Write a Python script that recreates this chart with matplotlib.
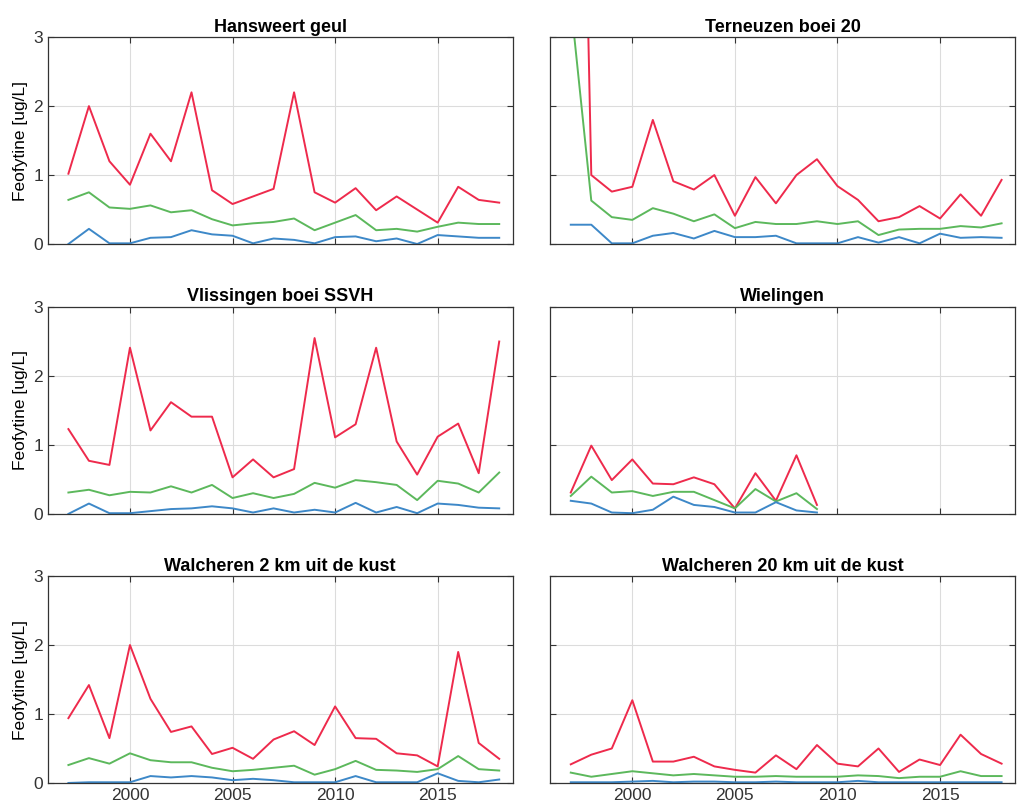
import matplotlib.pyplot as plt
import numpy as np

plt.rcParams['font.family'] = ['Liberation Sans', 'DejaVu Sans']

years = list(range(1997, 2019))

titles = ['Hansweert geul', 'Terneuzen boei 20', 'Vlissingen boei SSVH',
          'Wielingen', 'Walcheren 2 km uit de kust', 'Walcheren 20 km uit de kust']

# red (upper), green (middle), blue (lower) per station
hansweert_red = [1.02, 2.0, 1.2, 0.86, 1.6, 1.2, 2.2, 0.78, 0.58, 0.69, 0.8, 2.2,
                 0.75, 0.6, 0.81, 0.49, 0.69, 0.5, 0.31, 0.83, 0.64, 0.6]
hansweert_green = [0.64, 0.75, 0.53, 0.51, 0.56, 0.46, 0.49, 0.36, 0.27, 0.3, 0.32, 0.37,
                   0.2, 0.31, 0.42, 0.2, 0.22, 0.18, 0.25, 0.31, 0.29, 0.29]
hansweert_blue = [0.0, 0.22, 0.01, 0.01, 0.09, 0.1, 0.2, 0.14, 0.12, 0.01, 0.08, 0.06,
                  0.01, 0.1, 0.11, 0.04, 0.08, 0.0, 0.13, 0.11, 0.09, 0.09]

terneuzen_red = [15.0, 1.0, 0.76, 0.83, 1.8, 0.91, 0.79, 1.0, 0.41, 0.97, 0.59, 1.0,
                 1.23, 0.84, 0.64, 0.33, 0.39, 0.55, 0.37, 0.72, 0.41, 0.93]
terneuzen_green = [3.5, 0.63, 0.39, 0.35, 0.52, 0.44, 0.33, 0.43, 0.23, 0.32, 0.29, 0.29,
                   0.33, 0.29, 0.33, 0.13, 0.21, 0.22, 0.22, 0.26, 0.24, 0.3]
terneuzen_blue = [0.28, 0.28, 0.01, 0.01, 0.12, 0.16, 0.08, 0.19, 0.1, 0.1, 0.12, 0.01,
                  0.01, 0.01, 0.1, 0.02, 0.1, 0.01, 0.15, 0.09, 0.1, 0.09]

vlissingen_red = [1.23, 0.77, 0.71, 2.41, 1.21, 1.62, 1.41, 1.41, 0.53, 0.79, 0.53, 0.65,
                  2.55, 1.11, 1.3, 2.41, 1.05, 0.57, 1.12, 1.31, 0.59, 2.5]
vlissingen_green = [0.31, 0.35, 0.27, 0.32, 0.31, 0.4, 0.31, 0.42, 0.23, 0.3, 0.23, 0.29,
                    0.45, 0.38, 0.49, 0.46, 0.42, 0.2, 0.48, 0.44, 0.31, 0.6]
vlissingen_blue = [0.0, 0.15, 0.01, 0.01, 0.04, 0.07, 0.08, 0.11, 0.08, 0.02, 0.08, 0.02,
                   0.06, 0.02, 0.16, 0.02, 0.1, 0.01, 0.15, 0.13, 0.09, 0.08]

# Wielingen only measured until 2009
wielingen_red = [0.31, 0.99, 0.49, 0.79, 0.44, 0.43, 0.53, 0.43, 0.08, 0.59, 0.19, 0.85, 0.13]
wielingen_green = [0.26, 0.54, 0.31, 0.33, 0.26, 0.32, 0.32, 0.2, 0.08, 0.36, 0.18, 0.3, 0.07]
wielingen_blue = [0.19, 0.15, 0.02, 0.01, 0.06, 0.25, 0.13, 0.1, 0.02, 0.02, 0.17, 0.05, 0.02]

walch2_red = [0.94, 1.42, 0.65, 2.0, 1.22, 0.74, 0.82, 0.42, 0.51, 0.35, 0.63, 0.75,
              0.55, 1.11, 0.65, 0.64, 0.43, 0.4, 0.24, 1.9, 0.58, 0.35]
walch2_green = [0.26, 0.36, 0.28, 0.43, 0.33, 0.3, 0.3, 0.22, 0.17, 0.19, 0.22, 0.25,
                0.12, 0.2, 0.32, 0.19, 0.18, 0.16, 0.2, 0.39, 0.2, 0.18]
walch2_blue = [0.0, 0.01, 0.01, 0.01, 0.1, 0.08, 0.1, 0.08, 0.04, 0.06, 0.04, 0.01,
               0.01, 0.01, 0.1, 0.01, 0.01, 0.01, 0.14, 0.03, 0.01, 0.05]

walch20_red = [0.27, 0.41, 0.5, 1.2, 0.31, 0.31, 0.38, 0.24, 0.19, 0.15, 0.4, 0.2,
               0.55, 0.28, 0.24, 0.5, 0.16, 0.34, 0.26, 0.7, 0.42, 0.28]
walch20_green = [0.15, 0.09, 0.13, 0.17, 0.14, 0.11, 0.13, 0.11, 0.09, 0.09, 0.1, 0.09,
                 0.09, 0.09, 0.11, 0.1, 0.07, 0.09, 0.09, 0.17, 0.1, 0.1]
walch20_blue = [0.01, 0.01, 0.01, 0.02, 0.03, 0.01, 0.02, 0.02, 0.01, 0.01, 0.02, 0.01,
                0.01, 0.01, 0.03, 0.01, 0.01, 0.01, 0.01, 0.01, 0.01, 0.01]

series = [
    (hansweert_red, hansweert_green, hansweert_blue),
    (terneuzen_red, terneuzen_green, terneuzen_blue),
    (vlissingen_red, vlissingen_green, vlissingen_blue),
    (wielingen_red, wielingen_green, wielingen_blue),
    (walch2_red, walch2_green, walch2_blue),
    (walch20_red, walch20_green, walch20_blue),
]

colors = ['#ee2a4c', '#5cb85c', '#3d88c8']

fig = plt.figure(figsize=(10.19, 8.08), dpi=100)
lefts = [0.047, 0.540]
bottoms = [0.698, 0.364, 0.031]
w, h = 0.456, 0.256

for i in range(6):
    row, col = divmod(i, 2)
    ax = fig.add_axes([lefts[col], bottoms[row], w, h])
    for vals, c in zip(series[i], colors):
        ax.plot(years[:len(vals)], vals, color=c, lw=1.4)
    ax.set_xlim(1996, 2018.65)
    ax.set_ylim(0, 3)
    ax.set_xticks([2000, 2005, 2010, 2015])
    ax.set_yticks([0, 1, 2, 3])
    ax.grid(True, color='#dcdcdc', lw=0.8)
    ax.tick_params(direction='in', length=4, labelsize=12.5, colors='#333333',
                   top=True, right=True)
    for s in ax.spines.values():
        s.set_color('#333333')
        s.set_linewidth(0.9)
    ax.set_title(titles[i], fontsize=13, fontweight='bold', pad=4)
    if col == 0:
        ax.set_ylabel('Feofytine [ug/L]', fontsize=12.5, labelpad=4)
    else:
        ax.set_yticklabels([])
    if row < 2:
        ax.set_xticklabels([])

plt.savefig('out.png', dpi=100)
